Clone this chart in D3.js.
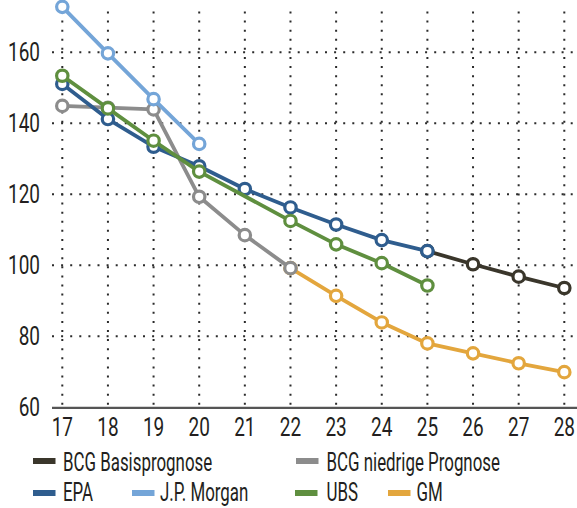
<!DOCTYPE html>
<html><head><meta charset="utf-8">
<script src="https://cdn.jsdelivr.net/npm/d3@7"></script>
<style>
html,body{margin:0;padding:0;background:#fff;}
svg{display:block;}
text{font-family:Roboto,"Liberation Sans",sans-serif;fill:#231f20;}
</style></head><body>
<svg id="c" width="577" height="508"></svg>
<script>
const years = [17,18,19,20,21,22,23,24,25,26,27,28];
const yTicks = [60,80,100,120,140,160];
const seriesNames = ["BCG Basisprognose","BCG niedrige Prognose","EPA","J.P. Morgan","UBS","GM"];
const seriesColors = ["#3a362b","#8c8c8c","#2f5d8e","#74a5d8","#5f8f3f","#e3a63d"];
const bcgBasis = [null,null,null,null,null,null,null,null,104.0,100.3,96.8,93.6];
const bcgLow   = [144.9,144.4,143.9,119.3,108.5,99.2,null,null,null,null,null,null];
const epa      = [151.1,141.2,133.4,127.9,121.5,116.3,111.5,107.1,104.0,null,null,null];
const jpm      = [172.8,159.7,146.8,134.2,null,null,null,null,null,null,null,null];
const ubs      = [153.4,144.2,135.1,126.4,null,112.5,105.9,100.6,94.3,null,null,null];
const gm       = [null,null,null,null,null,99.2,91.4,83.9,78.0,75.2,72.4,69.9];

const seriesValues = [bcgBasis,bcgLow,epa,jpm,ubs,gm];
// drawing order bottom -> top
const drawOrder = [0,5,1,2,4,3];

const svg = d3.select("#c");
const x = d3.scalePoint().domain(years).range([62.3,564.3]);
const y = d3.scaleLinear().domain([60,160]).range([407.3,52.3]);

// grid
const g = svg.append("g");
g.selectAll("line.h").data(yTicks.filter(t=>t>60)).enter().append("line")
  .attr("x1",52).attr("x2",577).attr("y1",d=>y(d)).attr("y2",d=>y(d))
  .attr("stroke","#2b2b2b").attr("stroke-width",2).attr("stroke-dasharray","2,7.1");
g.selectAll("line.v").data(years).enter().append("line")
  .attr("x1",d=>x(d)).attr("x2",d=>x(d)).attr("y1",y(171.5)).attr("y2",y(60))
  .attr("stroke","#2b2b2b").attr("stroke-width",2).attr("stroke-dasharray","2,7.1");

// axis line
svg.append("line").attr("x1",52).attr("x2",577).attr("y1",y(60)+0.5).attr("y2",y(60)+0.5)
  .attr("stroke","#555").attr("stroke-width",2.2);

// y labels
svg.selectAll("text.yl").data(yTicks).enter().append("text")
  .attr("transform",d=>`translate(40,${y(d)+9}) scale(0.73,1)`).attr("text-anchor","end")
  .attr("font-size",26).text(d=>d);

// x labels
svg.selectAll("text.xl").data(years).enter().append("text")
  .attr("transform",d=>`translate(${x(d)},436) scale(0.73,1)`).attr("text-anchor","middle")
  .attr("font-size",26).text(d=>d);

// series
const line = d3.line().x(d=>x(d.t)).y(d=>y(d.v));
drawOrder.forEach(i=>{
  const pts = years.map((t,k)=>({t, v: seriesValues[i][k]})).filter(d=>d.v!=null);
  const sg = svg.append("g");
  sg.append("path").datum(pts).attr("d",line).attr("fill","none")
    .attr("stroke",seriesColors[i]).attr("stroke-width",3.8).attr("stroke-linejoin","round");
  sg.selectAll("circle").data(pts).enter().append("circle")
    .attr("cx",d=>x(d.t)).attr("cy",d=>y(d.v)).attr("r",5.7)
    .attr("fill","#fff").attr("stroke",seriesColors[i]).attr("stroke-width",3.2);
});

// legend
const legendPos = [
  {sx:33, tx:63, row:0},
  {sx:296, tx:326.5, row:0},
  {sx:33, tx:63, row:1},
  {sx:132, tx:160, row:1},
  {sx:295, tx:326.5, row:1},
  {sx:388, tx:416.5, row:1}
];
const rowBase = [470.5, 501];
const rowSw = [461, 493];
legendPos.forEach((p,i)=>{
  svg.append("rect").attr("x",p.sx).attr("y",rowSw[p.row]-3).attr("width",22.5).attr("height",6)
    .attr("fill",seriesColors[i]);
  svg.append("text").attr("transform",`translate(${p.tx},${rowBase[p.row]}) scale(0.65,1)`)
    .attr("font-size",26).text(seriesNames[i]);
});
</script>
</body></html>
